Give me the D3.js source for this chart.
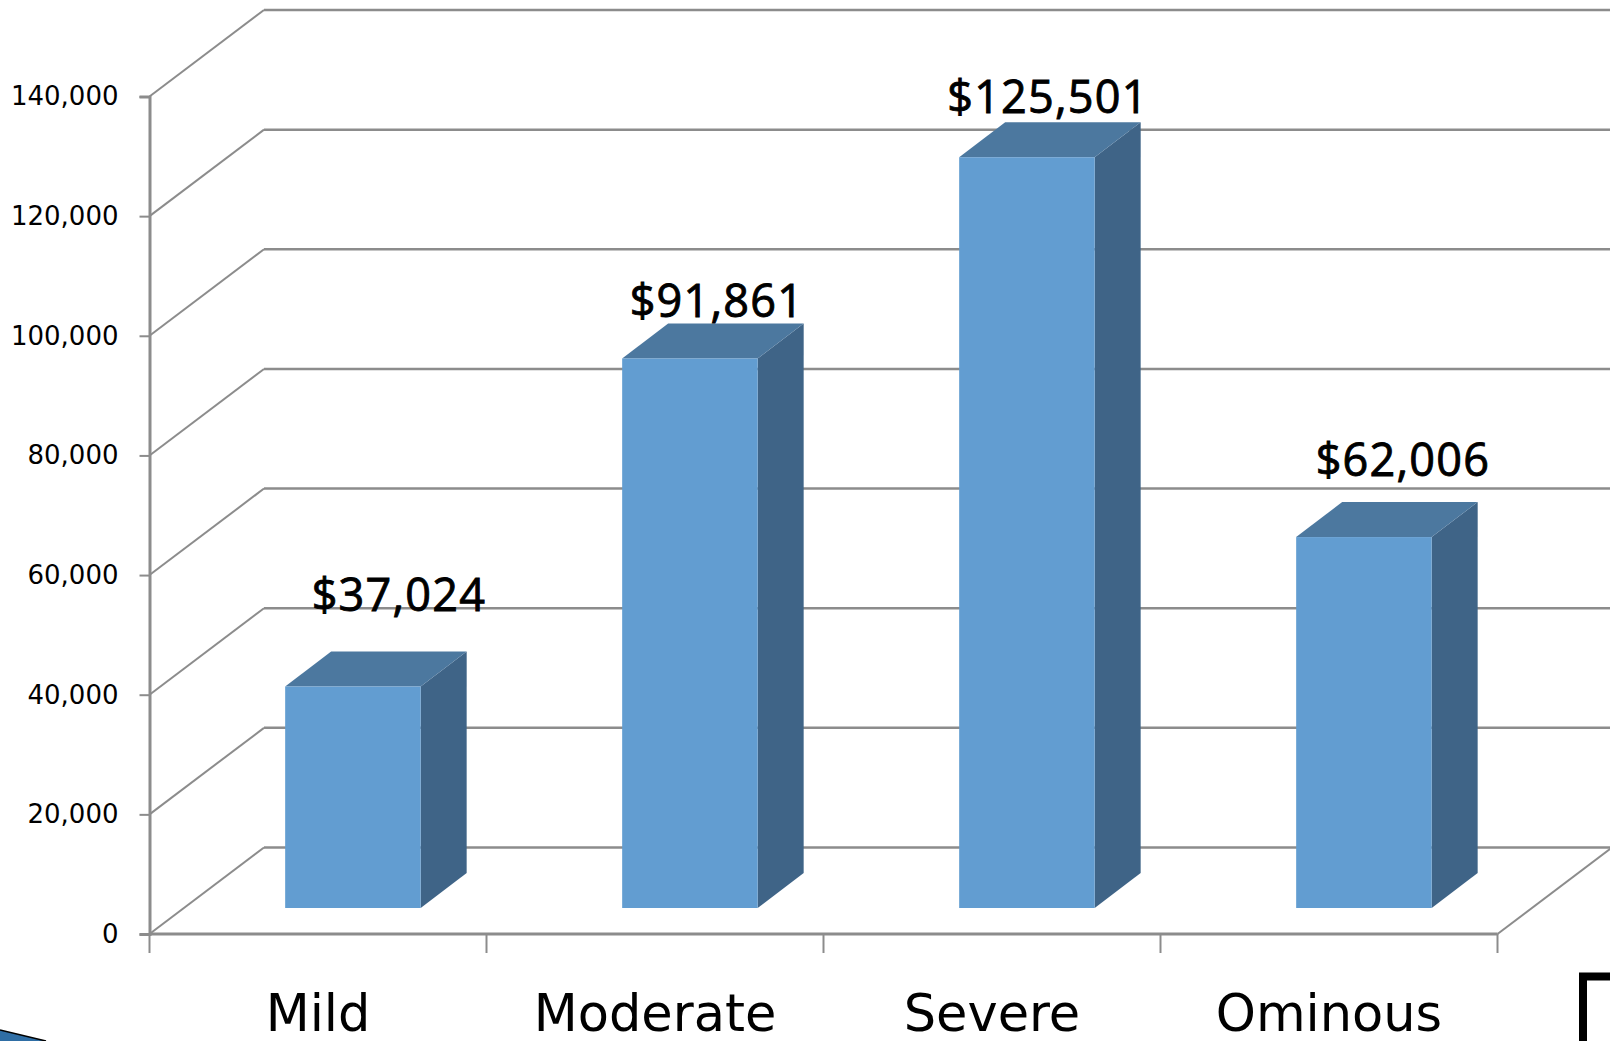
<!DOCTYPE html>
<html>
<head>
<meta charset="utf-8">
<script src="https://cdn.jsdelivr.net/npm/d3@7"></script>
<style>
html, body { margin: 0; padding: 0; background: #fff; }
svg { display: block; }
</style>
</head>
<body>
<svg id="chart" width="1610" height="1041"></svg>
<script>
const categories = ["Mild", "Moderate", "Severe", "Ominous"];
const costs = [37024, 91861, 125501, 62006];
const gridValues = [0, 20000, 40000, 60000, 80000, 100000, 120000, 140000];

const svg = d3.select("#chart");
const y = d3.scaleLinear().domain([0, 140000]).range([934, 96.5]);
const x = d3.scaleBand().domain(categories).range([149.5, 1497.5]);

// Oblique offsets of the 3D projection: wall depth and column depth
const wall = { dx: 114.5, dy: -86.5 };
const col = { dx: 46, dy: -35, lift: 26, width: 135.5 };
const gridColor = "#8c8c8c";
const format = d3.format(",");

// Hand placement of the dollar labels relative to each column's top back edge
const labelNudge = [[46, -41], [27, -6], [21, -9], [39, -26]];

const grid = svg.append("g").attr("fill", "none").attr("stroke", gridColor);
gridValues.forEach(v => {
  const py = y(v);
  grid.append("line").attr("x1", x.range()[0]).attr("y1", py)
    .attr("x2", x.range()[0] + wall.dx).attr("y2", py + wall.dy).attr("stroke-width", 2);
  grid.append("line").attr("x1", x.range()[0] + wall.dx).attr("y1", py + wall.dy)
    .attr("x2", 1610).attr("y2", py + wall.dy).attr("stroke-width", 2.5);
});
// Right edge of the floor
grid.append("line").attr("x1", x.range()[1]).attr("y1", y(0))
  .attr("x2", x.range()[1] + wall.dx).attr("y2", y(0) + wall.dy).attr("stroke-width", 2);

// Value axis
const yAxis = d3.axisLeft(y).tickValues(gridValues).tickFormat(format).tickSize(10).tickPadding(21);
const yG = svg.append("g").attr("transform", `translate(${x.range()[0]},0)`).call(yAxis);
yG.select(".domain").attr("stroke", gridColor).attr("stroke-width", 3);
yG.selectAll(".tick line").attr("stroke", gridColor).attr("stroke-width", 2);
yG.selectAll("text").attr("font-family", "'DejaVu Sans'").attr("font-size", 26).attr("fill", "#000");

// Floor front edge and category separators
const xG = svg.append("g").attr("stroke", gridColor);
xG.append("line").attr("x1", x.range()[0]).attr("x2", x.range()[1])
  .attr("y1", y(0)).attr("y2", y(0)).attr("stroke-width", 3);
d3.range(categories.length + 1).forEach(i => {
  const px = x.range()[0] + i * x.step();
  xG.append("line").attr("x1", px).attr("x2", px).attr("y1", y(0)).attr("y2", 953).attr("stroke-width", 2);
});

// Columns stand in the middle of the floor depth, so they sit right of the band centre
const floorShift = col.lift / -wall.dy * wall.dx + 0.5;
const barLeft = d => x(d) + (x.step() - col.width) / 2 + floorShift;
const base = y(0) - col.lift;
const barTop = (d, i) => base - (y(0) - y(costs[i]));
const poly = pts => "M" + pts.map(p => p.join(",")).join("L") + "Z";

// Columns: side, top and front faces
const bars = svg.append("g").selectAll("g").data(categories).join("g");
bars.append("path").attr("fill", "#3f6487").attr("d", (d, i) => {
  const l = barLeft(d) + col.width, t = barTop(d, i);
  return poly([[l, t], [l + col.dx, t + col.dy], [l + col.dx, base + col.dy], [l, base]]);
});
bars.append("path").attr("fill", "#4c789f").attr("d", (d, i) => {
  const l = barLeft(d), t = barTop(d, i);
  return poly([[l, t], [l + col.dx, t + col.dy], [l + col.width + col.dx, t + col.dy], [l + col.width, t]]);
});
bars.append("rect").attr("fill", "#629dd1")
  .attr("x", barLeft).attr("width", col.width)
  .attr("y", barTop).attr("height", (d, i) => base - barTop(d, i));

// Dollar labels above each column
bars.append("text")
  .attr("x", (d, i) => barLeft(d) + col.width / 2 + labelNudge[i][0])
  .attr("y", (d, i) => barTop(d, i) + col.dy + labelNudge[i][1])
  .attr("text-anchor", "middle")
  .attr("font-family", "'Open Sans'").attr("font-size", 45)
  .attr("letter-spacing", 1.2).attr("fill", "#000")
  .attr("stroke", "#000").attr("stroke-width", 0.9)
  .text((d, i) => "$" + format(costs[i]));

// Category names
svg.append("g").selectAll("text").data(categories).join("text")
  .attr("x", d => x(d) + x.step() / 2)
  .attr("y", 1031)
  .attr("text-anchor", "middle")
  .attr("font-family", "'DejaVu Sans'").attr("font-size", 51).attr("fill", "#000")
  .text(d => d);

// Slide furniture cut off at the page edge: blue wedge and black corner bracket
svg.append("path").attr("d", "M0,1030L46,1041L0,1041Z").attr("fill", "#2f6ea5");
svg.append("path").attr("d", "M0,1030L46,1041").attr("fill", "none").attr("stroke", "#000").attr("stroke-width", 1.5);
svg.append("path").attr("d", "M1583,1041V976.5H1610").attr("fill", "none").attr("stroke", "#000").attr("stroke-width", 8);
</script>
</body>
</html>
